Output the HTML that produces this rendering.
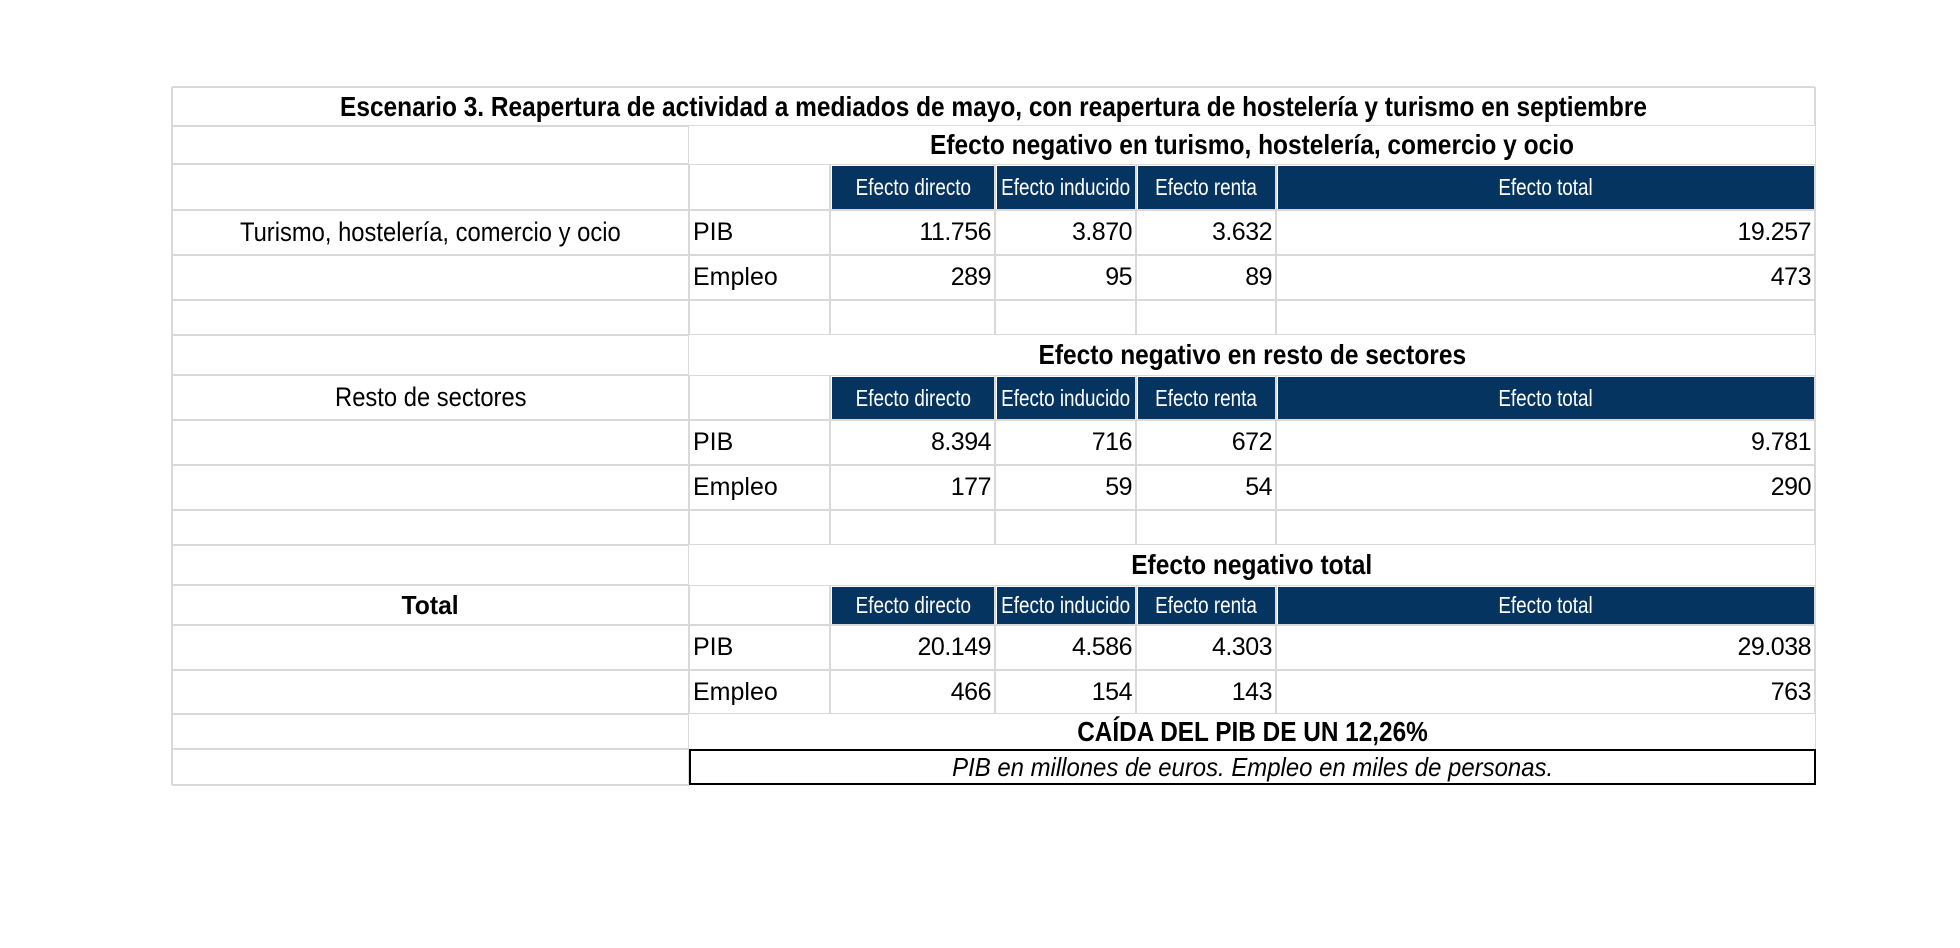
<!DOCTYPE html>
<html><head><meta charset="utf-8">
<style>
html,body{margin:0;padding:0;background:#fff;}
#root{position:relative;width:1960px;height:948px;overflow:hidden;font-family:"Liberation Sans",sans-serif;color:#000;}
.c{position:absolute;box-sizing:border-box;display:flex;align-items:center;white-space:nowrap;}
.c span{display:inline-block;}
.hl{position:absolute;height:2px;background:#d9d9d9;}
.vl{position:absolute;width:2px;background:#d9d9d9;}
.nav{background:#063461;color:#fff;justify-content:center;font-size:23px;}
.num{justify-content:flex-end;font-size:25px;padding-right:4px;letter-spacing:-0.5px;}
.lab{font-size:25px;padding-left:4px;}
.b{font-weight:bold;justify-content:center;font-size:28px;}
</style></head>
<body>
<div id="root"></div>
<script>
const colHeads=["Efecto directo","Efecto inducido","Efecto renta","Efecto total"];
const sections=["Efecto negativo en turismo, hostelería, comercio y ocio","Efecto negativo en resto de sectores","Efecto negativo total"];
const sideLabels=["Turismo, hostelería, comercio y ocio","Resto de sectores","Total"];
const pib=[["11.756","3.870","3.632","19.257"],["8.394","716","672","9.781"],["20.149","4.586","4.303","29.038"]];
const empleo=[["289","95","89","473"],["177","59","54","290"],["466","154","143","763"]];
const root=document.getElementById('root');
const X=[172,689,830,995,1136,1276,1815];
const Y=[87,126,164,210,255,300,335,375,420,465,510,545,585,625,670,714,749,785];
function cell(x,y,w,h,cls,txt,sx){const d=document.createElement('div');d.className='c '+cls;d.style.left=x+'px';d.style.top=y+'px';d.style.width=w+'px';d.style.height=h+'px';
 if(sx){const s=document.createElement('span');s.textContent=txt;s.style.transform='scaleX('+sx+')';d.appendChild(s);d.style.justifyContent='center';}else d.textContent=txt;
 root.appendChild(d);return d;}
function line(cls,x,y,len){const d=document.createElement('div');d.className=cls;d.style.left=x+'px';d.style.top=y+'px';if(cls==='hl')d.style.width=len+'px';else d.style.height=len+'px';root.appendChild(d);return d;}
for(let i=0;i<Y.length-1;i++){const l=line('hl',X[0],Y[i]-1,X[6]-X[0]);}
const lb=line('hl',X[0],Y[16]+35,X[1]-X[0]);
[X[0],X[6]].forEach(x=>{const v=line('vl',x-1,Y[0],Y[16]-Y[0]+36);});
const v1=line('vl',X[1]-1,Y[1],Y[16]-Y[1]+36);
for(let s=0;s<3;s++){const r0=2+s*5;
 for(let k=2;k<6;k++){const v=line('vl',X[k]-1,Y[r0],(s<2?Y[r0+4]:Y[r0+3])-Y[r0]);}
}
const t=cell(X[0],Y[0],X[6]-X[0],Y[1]-Y[0],'b','Escenario 3. Reapertura de actividad a mediados de mayo, con reapertura de hostelería y turismo en septiembre',0.873);

for(let s=0;s<3;s++){
 const rs=1+s*5;
 const h=cell(X[1],Y[rs],X[6]-X[1],Y[rs+1]-Y[rs],'b',sections[s],0.875);h.style.background='#fff';
 
 for(let k=0;k<4;k++){const n=cell(X[2+k]+2,Y[rs+1]+2,X[3+k]-X[2+k]-3,Y[rs+2]-Y[rs+1]-3,'nav',colHeads[k],0.82);
  }
 const sr=[3,7,12][s];
 const sl=cell(X[0],Y[sr],X[1]-X[0],Y[sr+1]-Y[sr],s==2?'b':'',sideLabels[s],s==2?0.95:0.88);
 sl.style.fontSize=s==2?'26px':'27px';
 
 const rp=rs+2;
 const a=cell(X[1],Y[rp],X[2]-X[1],Y[rp+1]-Y[rp],'lab','PIB');
 const b=cell(X[1],Y[rp+1],X[2]-X[1],Y[rp+2]-Y[rp+1],'lab','Empleo');
 for(let k=0;k<4;k++){
  const p=cell(X[2+k],Y[rp],X[3+k]-X[2+k],Y[rp+1]-Y[rp],'num',pib[s][k]);
  const e=cell(X[2+k],Y[rp+1],X[3+k]-X[2+k],Y[rp+2]-Y[rp+1],'num',empleo[s][k]);
 }
}
const cd=cell(X[1],Y[15],X[6]-X[1],Y[16]-Y[15],'b','CAÍDA DEL PIB DE UN 12,26%',0.87);cd.style.background='#fff';

const nt=cell(X[1],Y[16],X[6]-X[1]+1,36,'','PIB en millones de euros. Empleo en miles de personas.',0.92);
nt.style.fontStyle='italic';nt.style.fontSize='26px';nt.style.border='2px solid #000';nt.style.background='#fff';

</script>
</body></html>
